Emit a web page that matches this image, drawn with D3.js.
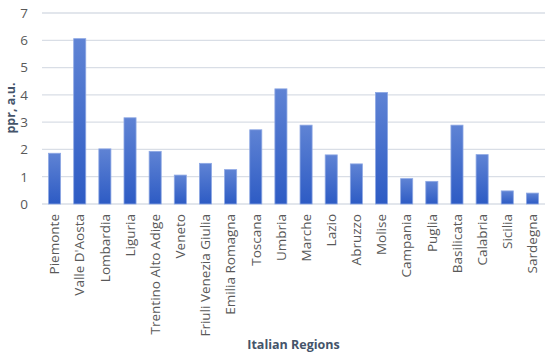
<!DOCTYPE html>
<html>
  <head>
    <script src="https://d3js.org/d3.v7.min.js"></script>
    <style>
      body { margin: 0; background: #fff; }
      .tick text { font: 13.5px "Open Sans", sans-serif; fill: #595959; }
      .axis-title { font: bold 12.5px "Open Sans", sans-serif; fill: #44546a; }
    </style>
  </head>
  <body>
    <svg width="550" height="358"></svg>
    <script>
      // regions and ppr values
      const regions = ["Piemonte", "Valle D'Aosta", "Lombardia", "Liguria", "Trentino Alto Adige",
        "Veneto", "Friuli Venezia Giulia", "Emilia Romagna", "Toscana", "Umbria", "Marche",
        "Lazio", "Abruzzo", "Molise", "Campania", "Puglia", "Basilicata", "Calabria",
        "Sicilia", "Sardegna"];
      const ppr = [1.86, 6.06, 2.02, 3.16, 1.93, 1.06, 1.49, 1.26, 2.72, 4.22, 2.89,
        1.80, 1.47, 4.09, 0.93, 0.83, 2.89, 1.81, 0.48, 0.40];
      const yTicks = [0, 1, 2, 3, 4, 5, 6, 7];

      const margin = {top: 13, right: 5, bottom: 154, left: 42};
      const width = 550 - margin.left - margin.right,
            height = 358 - margin.top - margin.bottom;

      const svg = d3.select("svg");

      // gradient like the Excel fill
      const grad = svg.append("defs").append("linearGradient")
          .attr("id", "barGrad")
          .attr("x1", 0).attr("y1", 0).attr("x2", 0).attr("y2", 1);
      grad.append("stop").attr("offset", "0%").attr("stop-color", "#5f83d4");
      grad.append("stop").attr("offset", "100%").attr("stop-color", "#2d5bc4");

      const g = svg.append("g")
          .attr("transform", `translate(${margin.left},${margin.top})`);

      const x = d3.scaleBand()
          .domain(regions)
          .range([0, width])
          .paddingInner(0.52)
          .paddingOuter(0.26);

      const y = d3.scaleLinear()
          .domain([0, 7])
          .range([height, 0]);

      // gridlines
      g.append("g")
          .selectAll("line")
          .data(yTicks)
          .enter().append("line")
          .attr("x1", 0)
          .attr("x2", width)
          .attr("y1", d => y(d))
          .attr("y2", d => y(d))
          .style("stroke", "#d9dee6")
          .style("stroke-width", 1.3);

      // y axis
      const yAxis = g.append("g")
          .call(d3.axisLeft(y).tickValues(yTicks).tickFormat(d3.format("d"))
            .tickSize(0).tickPadding(14));
      yAxis.select(".domain").remove();

      // bars
      g.selectAll(".bar")
          .data(regions)
          .enter().append("rect")
          .attr("class", "bar")
          .attr("x", d => x(d))
          .attr("y", (d, i) => y(ppr[i]))
          .attr("width", x.bandwidth())
          .attr("height", (d, i) => height - y(ppr[i]))
          .style("fill", "url(#barGrad)")
          .style("stroke", "#8ea8e4")
          .style("stroke-width", 0.8);

      // x axis
      const xAxis = g.append("g")
          .attr("transform", `translate(0,${height})`)
          .call(d3.axisBottom(x).tickSize(0).tickPadding(8));
      xAxis.select(".domain").remove();
      xAxis.selectAll("text")
          .attr("transform", "rotate(-90)")
          .attr("text-anchor", "end")
          .attr("x", -10)
          .attr("y", 0)
          .attr("dy", "0.35em");

      // axis titles
      svg.append("text")
          .attr("class", "axis-title")
          .attr("x", margin.left + width / 2)
          .attr("y", 349)
          .attr("text-anchor", "middle")
          .text("Italian Regions");

      svg.append("text")
          .attr("class", "axis-title")
          .attr("transform", "rotate(-90)")
          .attr("x", -108)
          .attr("y", 15)
          .attr("text-anchor", "middle")
          .text("ppr, a.u.");
    </script>
  </body>
</html>
